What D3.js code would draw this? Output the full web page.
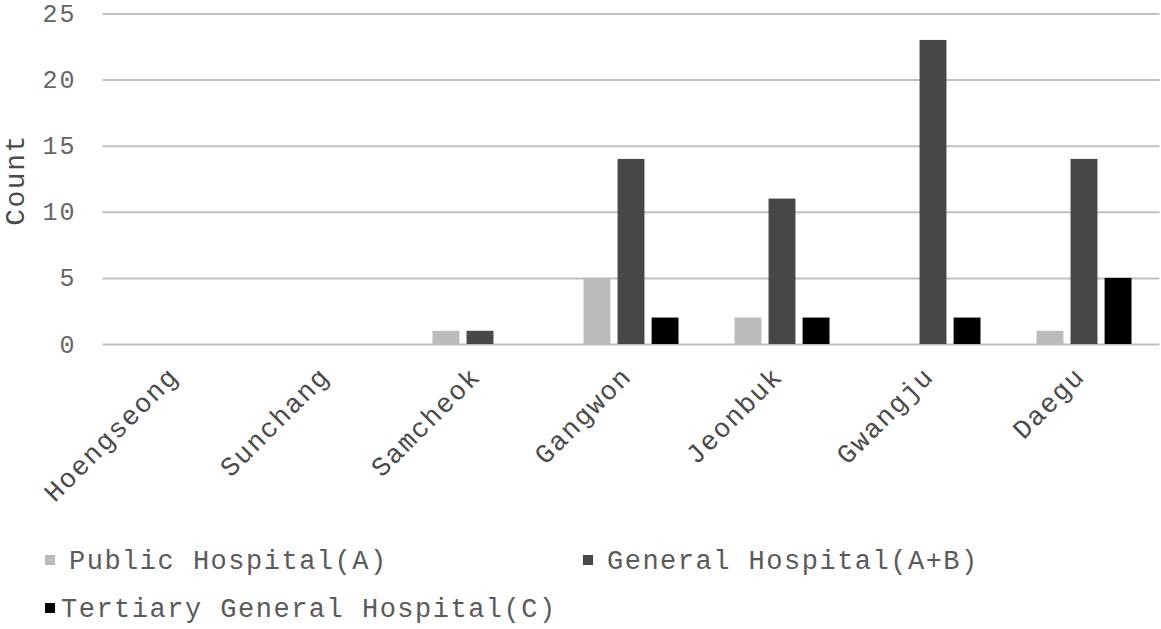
<!DOCTYPE html>
<html><head><meta charset="utf-8">
<script src="https://cdn.jsdelivr.net/npm/d3@7"></script>
<style>body{margin:0;background:#fff}svg{display:block}</style>
</head><body><svg id="c" width="1161" height="629"></svg>
<script>
const categories = ["Hoengseong","Sunchang","Samcheok","Gangwon","Jeonbuk","Gwangju","Daegu"];
const publicHospital = [0,0,1,5,2,0,1];
const generalHospital = [0,0,1,14,11,23,14];
const tertiaryHospital = [0,0,0,2,2,2,5];
const seriesNames = ["Public Hospital(A)","General Hospital(A+B)","Tertiary General Hospital(C)"];
const yTicks = [0,5,10,15,20,25];
const colors = ["#bbbbbb","#474747","#000000"];

(function(){
const series = [publicHospital, generalHospital, tertiaryHospital];
const svg = d3.select("#c");
const font = "'Liberation Mono','Courier New',monospace";
const pLeft = 102.5, pRight = 1159.5, pTop = 13.5, pBottom = 344;
const groupW = 95;

const x = d3.scaleBand().domain(categories).range([pLeft, pRight]).paddingInner(0).paddingOuter(0);
const x1 = d3.scaleBand().domain([0,1,2]).range([0, groupW]).paddingInner(0.21).paddingOuter(0);
const y = d3.scaleLinear().domain([0,25]).range([pBottom, pTop]);

const yAxis = d3.axisLeft(y).tickValues(yTicks).tickSize(-(pRight-pLeft));
const gy = svg.append("g").attr("transform",`translate(${pLeft},0)`).call(yAxis);
gy.select(".domain").remove();
gy.selectAll(".tick line").attr("stroke","#bfbfbf").attr("stroke-width",2);
gy.selectAll(".tick text").attr("font-family",font).attr("font-size",25).attr("letter-spacing",2)
  .attr("fill","#666666").attr("dy","0.32em").attr("x",-26);

const groups = svg.append("g").selectAll("g").data(categories).join("g")
  .attr("transform", d => `translate(${x(d) + x.bandwidth()/2 - groupW/2},0)`);
groups.selectAll("rect").data((d,i) => series.map((s,k)=>({k, v:s[i]}))).join("rect")
  .attr("x", d => x1(d.k))
  .attr("width", x1.bandwidth())
  .attr("y", d => y(d.v))
  .attr("height", d => y(0) - y(d.v))
  .attr("fill", d => colors[d.k]);

const xAxis = d3.axisBottom(x).tickSize(0);
const gx = svg.append("g").attr("transform",`translate(0,${pBottom})`).call(xAxis);
gx.select(".domain").remove();
gx.selectAll(".tick text").attr("font-family",font).attr("font-size",27).attr("letter-spacing",1.5)
  .attr("fill","#4a4a4a")
  .attr("text-anchor","end").attr("dy",0).attr("y",0)
  .attr("transform","translate(2,34) rotate(-45)");

svg.append("text").attr("transform",`translate(24,180) rotate(-90)`).attr("text-anchor","middle")
  .attr("font-family",font).attr("font-size",28).attr("letter-spacing",1.5).attr("fill","#4a4a4a").text("Count");

const legendPos = [[45,560],[583,560],[45,608]];
const lg = svg.append("g").selectAll("g").data(seriesNames).join("g")
  .attr("transform",(d,i)=>`translate(${legendPos[i][0]},${legendPos[i][1]})`);
lg.append("rect").attr("x",0).attr("y",-5).attr("width",10).attr("height",10).attr("fill",(d,i)=>colors[i]);
lg.append("text").attr("x",(d,i)=> i==2 ? 16 : 24).attr("y",9).attr("font-family",font).attr("font-size",27)
  .attr("letter-spacing",1.5).attr("fill","#5a5a5a").text(d=>d);
})();
</script></body></html>
